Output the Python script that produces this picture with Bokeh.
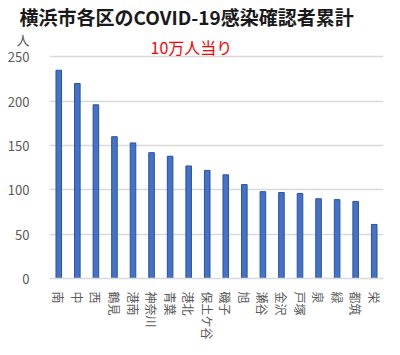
from bokeh.plotting import figure
from bokeh.models import FactorRange, Range1d, Label, ColumnDataSource, FixedTicker
from bokeh.embed import file_html
from bokeh.resources import INLINE

districts = ["南", "中", "西", "鶴見", "港南", "神奈川", "青葉", "港北", "保土ケ谷",
             "磯子", "旭", "瀬谷", "金沢", "戸塚", "泉", "緑", "都筑", "栄"]
cases_per_100k = [235, 220, 196, 160, 153, 142, 138, 127, 122,
                  117, 106, 98, 97, 96, 90, 89, 87, 61]
y_ticks = [0, 50, 100, 150, 200, 250]

title_text = "横浜市各区のCOVID-19感染確認者累計"
unit_text = "人"
subtitle_text = "10万人当り"

FONT = "Noto Sans CJK JP"

# value positions for the header texts (in data units of the y axis)
UNIT_Y = 269.5
SUB_Y = 261.5
Y_TOP = 281

src = ColumnDataSource(dict(x=districts, y=cases_per_100k))

p = figure(width=400, height=355, x_range=FactorRange(*districts, range_padding=0),
           y_range=Range1d(0, Y_TOP), output_backend="svg", toolbar_location=None,
           min_border_left=49, min_border_right=17, min_border_top=0, min_border_bottom=77)

p.title.text = title_text
p.title.text_font = FONT
p.title.text_font_size = "19px"
p.title.text_font_style = "bold"
p.title.text_color = "#1a1a1a"
p.title.align = "left"
p.title.offset = -30
p.title.standoff = 0

p.vbar(x="x", top="y", width=0.3, source=src, fill_color="#4472C4",
       line_color="#2A4FA6", line_width=1)

p.outline_line_color = None
p.xgrid.grid_line_color = None
p.ygrid.ticker = FixedTicker(ticks=y_ticks)
p.ygrid.grid_line_color = "#D9D9D9"
p.ygrid.grid_line_width = 1.5
p.yaxis.ticker = FixedTicker(ticks=y_ticks + [UNIT_Y])
p.yaxis.major_label_overrides = {UNIT_Y: unit_text}
p.yaxis.axis_line_color = None
p.yaxis.major_tick_line_color = None
p.yaxis.minor_tick_line_color = None
p.yaxis.major_label_text_font = FONT
p.yaxis.major_label_text_font_size = "13px"
p.yaxis.major_label_text_color = "#595959"
p.yaxis.major_label_standoff = 14

p.xaxis.axis_line_color = "#D9D9D9"
p.xaxis.axis_line_width = 1.5
p.xaxis.major_tick_line_color = None
p.xaxis.minor_tick_line_color = None
p.xaxis.major_label_orientation = "vertical"
p.xaxis.major_label_text_font = FONT
p.xaxis.major_label_text_font_size = "12px"
p.xaxis.major_label_text_color = "#595959"
p.xaxis.major_label_standoff = 7

p.add_layout(Label(x=7.65, y=SUB_Y, text=subtitle_text, text_font=FONT,
                   text_font_size="16px", text_color="#FF0000",
                   text_baseline="middle", text_align="center"))

open("out.html", "w").write(file_html(p, INLINE))
